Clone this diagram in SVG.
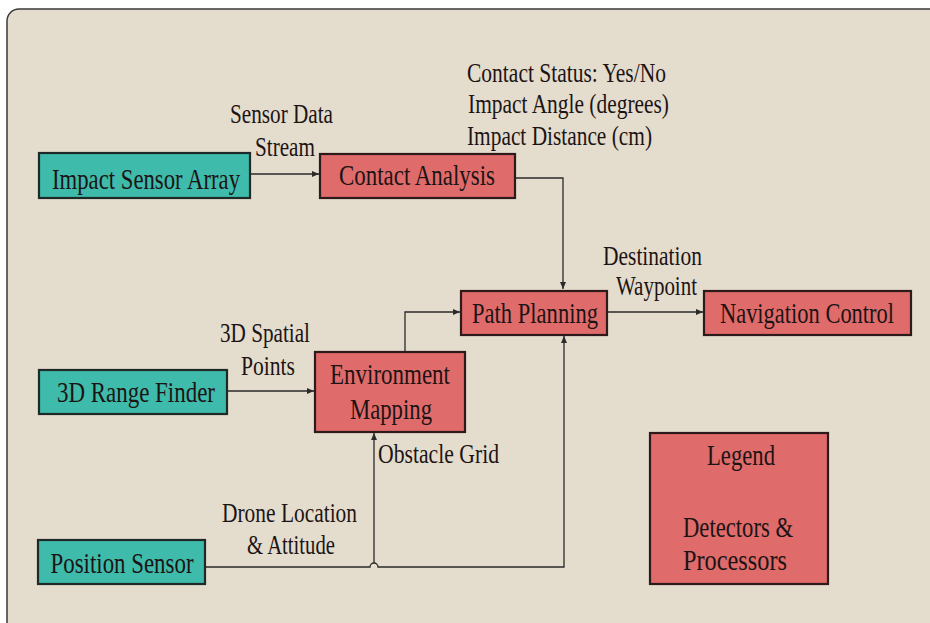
<svg xmlns="http://www.w3.org/2000/svg" width="930" height="623" viewBox="0 0 930 623">
<defs>
<style>
.bg{fill:#e4dccd;stroke:#3a3a3a;stroke-width:1.5}
.det{fill:#3ebbab;stroke:#1f2a28;stroke-width:2.2}
.proc{fill:#e06b6b;stroke:#2e1a1a;stroke-width:2.2}
.t{font-family:"Liberation Serif","Times New Roman",serif;font-size:29px;fill:#1c1414;text-anchor:middle}
.a{font-family:"Liberation Serif","Times New Roman",serif;font-size:27px;fill:#1c1414}
.c{fill:none;stroke:#2a2a2a;stroke-width:1.3}
</style>
<marker id="ah" markerWidth="8" markerHeight="8" refX="7" refY="4" orient="auto" markerUnits="userSpaceOnUse">
<path d="M0,1 L7,4 L0,7 Z" fill="#2a2a2a"/>
</marker>
</defs>
<rect x="0" y="0" width="930" height="623" fill="#ffffff"/>
<rect class="bg" x="7" y="9" width="950" height="650" rx="12"/>

<g id="connectors">
<path class="c" d="M250,174 H319" marker-end="url(#ah)"/>
<path class="c" d="M515,178 H563 V289" marker-end="url(#ah)"/>
<path class="c" d="M405,352 V312 H460" marker-end="url(#ah)"/>
<path class="c" d="M227,391 H314" marker-end="url(#ah)"/>
<path class="c" d="M607,312 H703" marker-end="url(#ah)"/>
<path class="c" d="M205,567 H370 A4,4 0 0 1 378,567 H564 V336" marker-end="url(#ah)"/>
<path class="c" d="M374,563 V433" marker-end="url(#ah)"/>
<text class="a" x="230" y="123" textLength="103" lengthAdjust="spacingAndGlyphs">Sensor Data</text>
<text class="a" x="255" y="156" textLength="60" lengthAdjust="spacingAndGlyphs">Stream</text>
<text class="a" x="467" y="82" textLength="199" lengthAdjust="spacingAndGlyphs">Contact Status: Yes/No</text>
<text class="a" x="468" y="113" textLength="201" lengthAdjust="spacingAndGlyphs">Impact Angle (degrees)</text>
<text class="a" x="467" y="145" textLength="185" lengthAdjust="spacingAndGlyphs">Impact Distance (cm)</text>
<text class="a" x="603" y="265" textLength="99" lengthAdjust="spacingAndGlyphs">Destination</text>
<text class="a" x="616" y="295" textLength="81" lengthAdjust="spacingAndGlyphs">Waypoint</text>
<text class="a" x="220" y="342" textLength="90" lengthAdjust="spacingAndGlyphs">3D Spatial</text>
<text class="a" x="241" y="375" textLength="54" lengthAdjust="spacingAndGlyphs">Points</text>
<text class="a" x="378" y="463" textLength="121" lengthAdjust="spacingAndGlyphs">Obstacle Grid</text>
<text class="a" x="222" y="522" textLength="135" lengthAdjust="spacingAndGlyphs">Drone Location</text>
<text class="a" x="247" y="554" textLength="88" lengthAdjust="spacingAndGlyphs">&amp; Attitude</text>
</g>

<g id="impact-sensor-array">
<rect class="det" x="39" y="153" width="211" height="45"/>
<text class="t" x="146" y="189" textLength="188" lengthAdjust="spacingAndGlyphs">Impact Sensor Array</text>
</g>
<g id="contact-analysis">
<rect class="proc" x="320" y="154" width="195" height="44"/>
<text class="t" x="417" y="185" textLength="156" lengthAdjust="spacingAndGlyphs">Contact Analysis</text>
</g>
<g id="path-planning">
<rect class="proc" x="461" y="291" width="146" height="44"/>
<text class="t" x="535" y="323" textLength="126" lengthAdjust="spacingAndGlyphs">Path Planning</text>
</g>
<g id="navigation-control">
<rect class="proc" x="704" y="291" width="207" height="44"/>
<text class="t" transform="translate(807,323) scale(0.775,1)" x="0" y="0">Navigation Control</text>
</g>
<g id="range-finder">
<rect class="det" x="39" y="370" width="188" height="44"/>
<text class="t" x="136" y="402" textLength="158" lengthAdjust="spacingAndGlyphs">3D Range Finder</text>
</g>
<g id="environment-mapping">
<rect class="proc" x="315" y="352" width="150" height="80"/>
<text class="t" x="390" y="384" textLength="120" lengthAdjust="spacingAndGlyphs">Environment</text>
<text class="t" x="391" y="419" textLength="82" lengthAdjust="spacingAndGlyphs">Mapping</text>
</g>
<g id="position-sensor">
<rect class="det" x="38" y="540" width="167" height="44"/>
<text class="t" x="122" y="573" textLength="143" lengthAdjust="spacingAndGlyphs">Position Sensor</text>
</g>
<g id="legend">
<rect class="proc" x="650" y="433" width="178" height="151"/>
<text class="t" x="741" y="465" textLength="68" lengthAdjust="spacingAndGlyphs">Legend</text>
<text class="t" x="738" y="537" textLength="110" lengthAdjust="spacingAndGlyphs">Detectors &amp;</text>
<text class="t" x="735" y="570" textLength="104" lengthAdjust="spacingAndGlyphs">Processors</text>
</g>
</svg>
